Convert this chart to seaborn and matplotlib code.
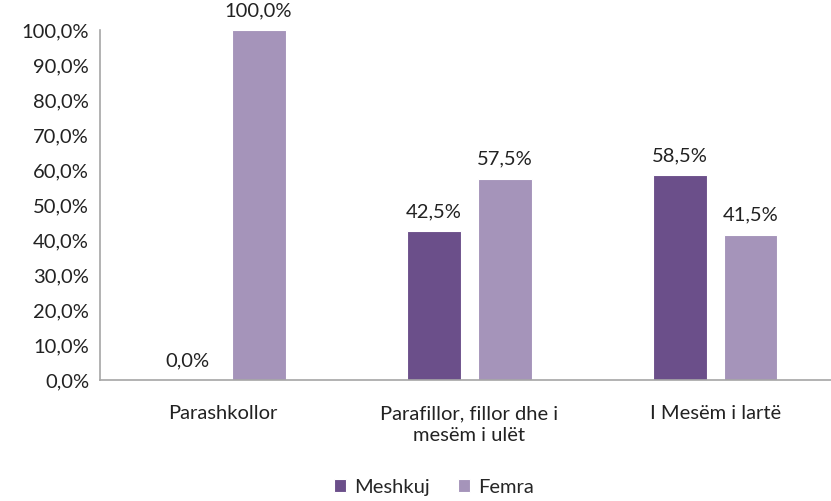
import matplotlib
matplotlib.use("Agg")
import matplotlib.pyplot as plt
import seaborn as sns
import pandas as pd

categories = ["Parashkollor", "Parafillor, fillor dhe i\nmesëm i ulët", "I Mesëm i lartë"]
meshkuj = [0.0, 42.5, 58.5]
femra = [100.0, 57.5, 41.5]
series_names = ["Meshkuj", "Femra"]
yticks = [0, 10, 20, 30, 40, 50, 60, 70, 80, 90, 100]

sns.set_theme(style="white")
plt.rcParams['font.family'] = ['Lato', 'DejaVu Sans']

df = pd.DataFrame({
    "cat": categories * 2,
    "val": meshkuj + femra,
    "ser": [series_names[0]] * 3 + [series_names[1]] * 3,
})

FS = 14.5
fig = plt.figure(figsize=(8.31, 5.01), dpi=100)
ax = fig.add_axes([0.1205, 0.2415, 0.888, 0.6985])
palette = {"Meshkuj": "#6B4F8A", "Femra": "#A594BA"}
sns.barplot(data=df, x="cat", y="val", hue="ser", palette=palette, width=0.576, gap=0.238,
            ax=ax, edgecolor="white", linewidth=0.8, saturation=1, legend=True)

ax.set_ylim(0, 100)
ax.set_yticks(yticks)
ax.set_yticklabels([f"{v:.1f}".replace(".", ",") + "%" for v in yticks], fontsize=FS, color="#222222")
ax.tick_params(axis="x", labelsize=FS, colors="#222222", pad=12)
ax.tick_params(axis="y", pad=8, length=0)
for t in ax.get_xticklabels():
    t.set_linespacing(1.35)
ax.set_xlabel("")
ax.set_ylabel("")
for s in ["top", "right"]:
    ax.spines[s].set_visible(False)
ax.spines["left"].set_color("#A6A6A6")
ax.spines["bottom"].set_color("#A6A6A6")
ax.spines["left"].set_linewidth(1.2)
ax.spines["bottom"].set_linewidth(1.2)

for cont in ax.containers:
    labels = [f"{v:.1f}".replace(".", ",") + "%" for v in cont.datavalues]
    ax.bar_label(cont, labels=labels, padding=8, fontsize=FS, color="#222222")

ax.legend(loc="upper center", bbox_to_anchor=(0.452, -0.23), ncol=2, frameon=False,
          fontsize=FS, handlelength=0.6, handleheight=0.6, handletextpad=0.4, columnspacing=1.4)

fig.savefig("out.png", dpi=100)
